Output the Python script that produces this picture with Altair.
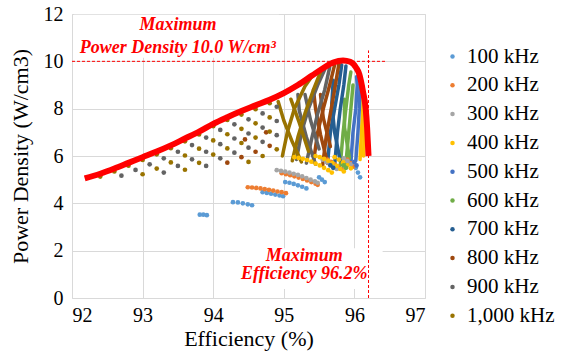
import altair as alt
import pandas as pd

freq_labels = ["100 kHz", "200 kHz", "300 kHz", "400 kHz", "500 kHz",
               "600 kHz", "700 kHz", "800 kHz", "900 kHz", "1,000 kHz"]
freq_colors = ["#5B9BD5", "#ED7D31", "#A5A5A5", "#FFC000", "#4472C4",
               "#70AD47", "#255E91", "#9E480E", "#636363", "#997300"]

x_ticks = [92, 93, 94, 95, 96, 97]
y_ticks = [0, 2, 4, 6, 8, 10, 12]

# ---- scattered / arc dots (efficiency %, power density W/cm3) ----
dots_100 = [(93.81, 3.52), (93.86, 3.52), (93.91, 3.5),
            (94.28, 4.05), (94.35, 4.04), (94.42, 4.0), (94.49, 3.96), (94.55, 3.92),
            (94.7, 4.47), (94.76, 4.44), (94.82, 4.41), (94.88, 4.37), (94.94, 4.33), (94.99, 4.3),
            (95.02, 4.9), (95.08, 4.87), (95.14, 4.82), (95.2, 4.76), (95.26, 4.7), (95.32, 4.63),
            (95.5, 5.1), (95.54, 5.0), (95.58, 4.9),
            (95.98, 5.7), (96.02, 5.5), (96.05, 5.3), (96.08, 5.1)]
dots_200 = [(94.49, 4.68), (94.55, 4.67), (94.61, 4.65), (94.67, 4.63), (94.73, 4.6),
            (94.79, 4.57), (94.85, 4.54), (94.91, 4.5), (94.97, 4.47), (95.03, 4.43),
            (94.97, 5.27), (95.03, 5.23), (95.09, 5.19), (95.15, 5.14), (95.21, 5.09),
            (95.27, 5.03), (95.33, 4.97), (95.39, 4.9), (95.45, 4.83), (95.48, 4.78),
            (95.62, 5.85), (95.67, 5.75), (95.72, 5.65), (95.77, 5.55), (95.82, 5.45),
            (95.9, 5.85), (95.94, 5.7), (95.98, 5.55)]
dots_300 = [(94.9, 5.4), (94.96, 5.37), (95.02, 5.34), (95.08, 5.3), (95.14, 5.25), (95.2, 5.2),
            (95.26, 5.14), (95.32, 5.07), (95.38, 5.0), (95.44, 4.93), (95.48, 4.87),
            (95.55, 5.85), (95.6, 5.75), (95.65, 5.65), (95.7, 5.55), (95.75, 5.45),
            (95.85, 5.9), (95.9, 5.78), (95.95, 5.65)]
dots_400 = [(95.15, 5.95), (95.21, 5.92), (95.27, 5.88), (95.33, 5.83), (95.39, 5.76),
            (95.45, 5.68), (95.51, 5.6), (95.57, 5.5), (95.63, 5.4), (95.68, 5.3),
            (95.45, 6.0), (95.51, 5.95), (95.57, 5.88), (95.63, 5.8), (95.69, 5.7),
            (95.75, 5.58), (95.8, 5.45), (95.85, 5.35),
            (95.72, 5.95), (95.78, 5.85), (95.84, 5.73), (95.9, 5.6), (95.95, 5.48)]
dots_500 = [(96.0, 5.75), (96.03, 5.6)]
dots_600 = [(95.85, 5.6), (95.88, 5.5)]
dots_700 = [(95.66, 5.6), (95.7, 5.5)]
dots_800 = [(94.2, 5.72), (94.4, 5.95), (94.6, 6.18), (94.8, 6.43), (94.45, 6.7), (94.75, 7.0)]
dots_900 = [(92.7, 5.17), (92.9, 5.41), (93.1, 5.65), (93.3, 5.9), (93.5, 6.18), (93.7, 6.46),
            (93.9, 6.78), (94.1, 7.1), (94.3, 7.34), (94.5, 7.55), (94.7, 7.8), (94.9, 8.08),
            (93.3, 5.3), (93.5, 5.58), (93.7, 5.86), (93.9, 6.18), (94.1, 6.5), (94.3, 6.74),
            (94.5, 6.95), (94.7, 7.2), (94.9, 7.48),
            (93.9, 5.58), (94.1, 5.9), (94.3, 6.14), (94.5, 6.35), (94.7, 6.6), (94.9, 6.88)]
dots_1000 = [(92.4, 5.13), (92.6, 5.35), (92.8, 5.59), (93.0, 5.83), (93.2, 6.07), (93.4, 6.33),
             (93.6, 6.62), (93.8, 6.91), (94.0, 7.26), (94.2, 7.52), (94.4, 7.75), (94.6, 7.98),
             (94.8, 8.23),
             (93.0, 5.23), (93.2, 5.47), (93.4, 5.73), (93.6, 6.02), (93.8, 6.31), (94.0, 6.66),
             (94.2, 6.92), (94.4, 7.15), (94.6, 7.38), (94.8, 7.63),
             (93.6, 5.42), (93.8, 5.71), (94.0, 6.06), (94.2, 6.32), (94.4, 6.55), (94.6, 6.78),
             (94.8, 7.03),
             (94.5, 5.75), (94.7, 6.0), (94.9, 6.28)]

# ---- dense strands forming the columns near the peak ----
strands_400 = [[(96.08, 5.85), (96.1, 7.0), (96.12, 8.0), (96.12, 8.6)],
               [(96.13, 6.0), (96.14, 7.2), (96.14, 8.2)]]
strands_500 = [[(95.95, 5.7), (95.98, 7.0), (96.02, 8.0), (96.04, 9.0), (96.03, 9.35)],
               [(96.02, 5.8), (96.05, 7.0), (96.07, 8.0), (96.08, 8.9)]]
strands_600 = [[(95.8, 5.6), (95.84, 7.0), (95.88, 8.0), (95.92, 9.0), (95.95, 9.55)],
               [(95.88, 5.7), (95.92, 7.0), (95.95, 8.0), (95.98, 9.0)],
               [(95.93, 5.9), (95.86, 7.2), (95.86, 8.4)]]
strands_700 = [[(95.62, 5.7), (95.66, 7.0), (95.72, 8.0), (95.78, 9.0), (95.82, 9.85)],
               [(95.72, 5.6), (95.76, 7.0), (95.8, 8.0), (95.85, 9.0), (95.88, 9.8)],
               [(95.8, 5.8), (95.72, 7.0), (95.68, 8.2), (95.7, 9.2)]]
strands_800 = [[(95.42, 5.75), (95.48, 7.0), (95.56, 8.0), (95.65, 9.0), (95.72, 9.85)],
               [(95.55, 5.6), (95.6, 6.8), (95.66, 7.8), (95.72, 8.8), (95.78, 9.9)],
               [(95.62, 5.7), (95.52, 6.9), (95.45, 8.0), (95.42, 8.8)],
               [(95.66, 6.4), (95.56, 7.6), (95.52, 8.6)]]
strands_900 = [[(95.18, 5.85), (95.25, 7.0), (95.35, 8.0), (95.48, 9.0), (95.58, 9.65)],
               [(95.32, 5.7), (95.4, 6.8), (95.48, 7.8), (95.58, 8.8), (95.65, 9.75)],
               [(95.45, 5.65), (95.32, 6.8), (95.22, 7.9), (95.2, 8.6)],
               [(95.5, 6.3), (95.38, 7.5), (95.3, 8.6)]]
strands_1000 = [[(94.98, 6.0), (95.05, 7.0), (95.15, 8.0), (95.3, 8.95), (95.42, 9.45)],
                [(95.12, 5.8), (95.2, 6.8), (95.3, 7.8), (95.42, 8.8), (95.52, 9.55)],
                [(95.25, 5.75), (95.12, 6.6), (95.0, 7.5), (94.92, 8.3)],
                [(95.35, 6.2), (95.22, 7.4), (95.1, 8.4)]]

# ---- envelope (Pareto front) ----
env_x = [92.18, 92.4, 92.6, 92.8, 93.0, 93.2, 93.4, 93.6, 93.8, 94.0, 94.2, 94.4, 94.6, 94.8,
         95.0, 95.2, 95.4, 95.55, 95.7, 95.84, 95.94, 96.02, 96.07, 96.12, 96.16, 96.18, 96.2]
env_y = [5.05, 5.25, 5.47, 5.71, 5.95, 6.19, 6.45, 6.74, 7.03, 7.36, 7.64, 7.9, 8.14, 8.38,
         8.66, 9.0, 9.4, 9.7, 9.95, 10.04, 9.98, 9.75, 9.45, 8.75, 8.0, 7.2, 6.0]

max_pd = 10.0
max_eff = 96.2

all_dots = [dots_100, dots_200, dots_300, dots_400, dots_500,
            dots_600, dots_700, dots_800, dots_900, dots_1000]
all_strands = {3: strands_400, 4: strands_500, 5: strands_600, 6: strands_700,
               7: strands_800, 8: strands_900, 9: strands_1000}

rows = []
for i, pts in enumerate(all_dots):
    for (x, y) in pts:
        rows.append({"eff": x, "pd": y, "freq": freq_labels[i]})
dots_df = pd.DataFrame(rows)

srows = []
for i, strands in all_strands.items():
    for j, s in enumerate(strands):
        for k, (x, y) in enumerate(s):
            srows.append({"eff": x, "pd": y, "sid": f"{i}-{j}", "ord": k, "hex": freq_colors[i]})
strand_df = pd.DataFrame(srows)

env_df = pd.DataFrame({"eff": env_x, "pd": env_y, "ord": list(range(len(env_x)))})

xscale = alt.Scale(domain=[92, 97], nice=False, zero=False)
yscale = alt.Scale(domain=[0, 12], nice=False, zero=True)
FONT = "Liberation Serif"

xaxis = alt.Axis(values=x_ticks, format="d", labelPadding=7, title="Efficiency (%)", titlePadding=3)
yaxis = alt.Axis(values=y_ticks, format="d", labelPadding=9, title="Power Density (W/cm3)",
                 titlePadding=11)

# white boxes behind annotation text
box_df = pd.DataFrame({"x1": [92.03, 94.38], "x2": [94.93, 96.4],
                       "y1": [10.15, 0.38], "y2": [11.97, 2.1]})
boxes = alt.Chart(box_df).mark_rect(color="white").encode(
    x=alt.X("x1:Q", scale=xscale, axis=xaxis), x2="x2:Q",
    y=alt.Y("y1:Q", scale=yscale, axis=yaxis), y2="y2:Q")

hrule = alt.Chart(pd.DataFrame({"a": [92.0], "b": [96.46], "v": [max_pd]})).mark_rule(
    color="#FF0000", strokeDash=[3, 2], strokeWidth=1).encode(
    x=alt.X("a:Q", scale=xscale, axis=xaxis), x2="b:Q", y=alt.Y("v:Q", scale=yscale, axis=yaxis))
vrule = alt.Chart(pd.DataFrame({"v": [max_eff], "a": [0.0], "b": [10.46]})).mark_rule(
    color="#FF0000", strokeDash=[3, 2], strokeWidth=1).encode(
    x=alt.X("v:Q", scale=xscale, axis=xaxis), y=alt.Y("a:Q", scale=yscale, axis=yaxis), y2="b:Q")

strands = alt.Chart(strand_df).mark_line(strokeWidth=3.5, strokeCap="round", strokeJoin="round").encode(
    x=alt.X("eff:Q", scale=xscale, axis=xaxis), y=alt.Y("pd:Q", scale=yscale, axis=yaxis),
    color=alt.Color("hex:N", scale=None), detail="sid:N", order="ord:Q")

dots = alt.Chart(dots_df).mark_circle(size=22, opacity=1).encode(
    x=alt.X("eff:Q", scale=xscale, axis=xaxis), y=alt.Y("pd:Q", scale=yscale, axis=yaxis),
    color=alt.Color("freq:N", scale=alt.Scale(domain=freq_labels, range=freq_colors),
                    sort=freq_labels,
                    legend=alt.Legend(title=None, orient="none", legendX=370, legendY=32,
                                      symbolType="circle", symbolSize=20, padding=0,
                                      rowPadding=6.8, labelOffset=4, labelLimit=200)))

env = alt.Chart(env_df).mark_line(color="#FF0000", strokeWidth=6, interpolate="monotone").encode(
    x=alt.X("eff:Q", scale=xscale, axis=xaxis), y=alt.Y("pd:Q", scale=yscale, axis=yaxis),
    order="ord:Q")

ann_df = pd.DataFrame({"x": [93.5, 93.5, 95.29, 95.29], "y": [11.52, 10.58, 1.78, 1.0],
                       "t": ["Maximum", "Power Density 10.0 W/cm³", "Maximum", "Efficiency 96.2%"]})
ann = alt.Chart(ann_df).mark_text(fontSize=18, fontStyle="italic", fontWeight="bold",
                                  color="#FF0000", align="center", baseline="middle").encode(
    x=alt.X("x:Q", scale=xscale, axis=xaxis), y=alt.Y("y:Q", scale=yscale, axis=yaxis), text="t:N")

chart = alt.layer(boxes, hrule, vrule, strands, dots, env, ann).properties(
    width=353, height=284, autosize="none",
    padding={"left": 72, "top": 14, "right": 145, "bottom": 62},
    background="white"
).configure_view(stroke=None).configure(font=FONT).configure_axis(
    grid=True, gridColor="#D9D9D9", domain=False, ticks=False,
    labelFont=FONT, labelFontSize=20, labelColor="#000000",
    titleFont=FONT, titleFontSize=22, titleFontWeight="normal", titleColor="#000000"
).configure_legend(
    labelFont=FONT, labelFontSize=21, labelColor="#000000"
).configure_text(font=FONT)

chart.save("out.html", embed_options={"renderer": "svg", "actions": False})
